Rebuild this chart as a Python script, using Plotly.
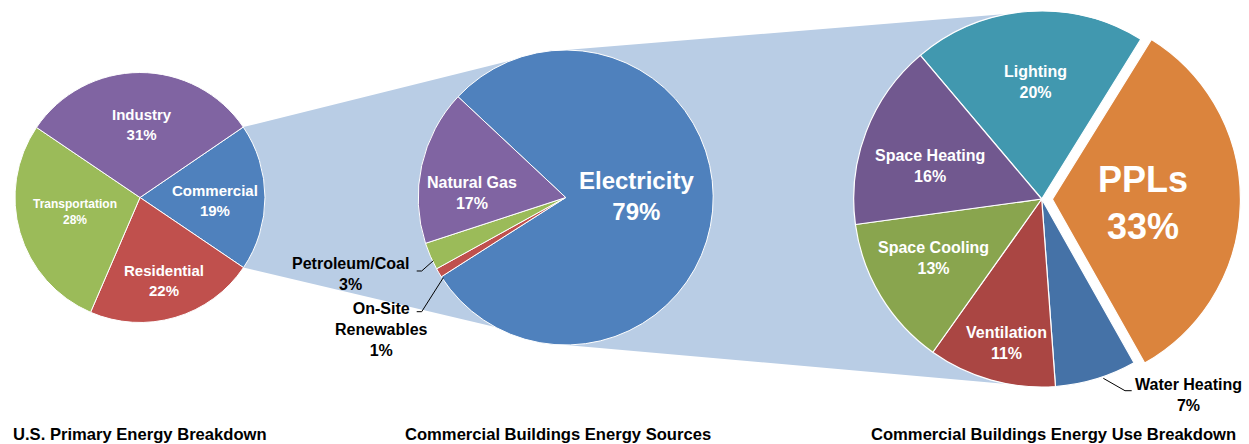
import math
import plotly.graph_objects as go

W, H = 1249, 444

# ---------------- data ----------------
us_labels = ["Commercial", "Residential", "Transportation", "Industry"]
us_values = [19, 22, 28, 31]

src_labels = ["Electricity", "On-Site Renewables", "Petroleum/Coal", "Natural Gas"]
src_values = [79, 1, 3, 17]

use_labels = ["Lighting", "PPLs", "Water Heating", "Ventilation", "Space Cooling", "Space Heating"]
use_values = [20, 33, 7, 11, 13, 16]

titles = ["U.S. Primary Energy Breakdown",
          "Commercial Buildings Energy Sources",
          "Commercial Buildings Energy Use Breakdown"]

# ---------------- styles ----------------
us_colors = ["#4F81BD", "#C0504D", "#9BBB59", "#8064A2"]
src_colors = ["#4F81BD", "#C0504D", "#9BBB59", "#8064A2"]
use_colors = ["#4198AF", "#DB843D", "#4572A7", "#AA4643", "#89A54E", "#71588F"]
use_pull = [0, 0.057, 0, 0, 0, 0]
link_color = "#B9CDE5"
FONT = "Liberation Sans, Arial, sans-serif"

# pie geometry in pixels (centre x, centre y, radius, rotation)
P1 = dict(cx=140.0, cy=197.5, r=125.0, rot=55.7)
P2 = dict(cx=565.7, cy=197.5, r=147.5, rot=-46.9)
P3 = dict(cx=1041.7, cy=199.0, r=188.0, rot=-40.2)


def px(x):
    return x / W


def py(y):
    return 1 - y / H


def domain(p, pull=0.0):
    R = p["r"] * (1 + pull)
    return dict(x=[px(p["cx"] - R), px(p["cx"] + R)],
                y=[py(p["cy"] + R), py(p["cy"] - R)])


def edge_point(p, ang_cw):
    a = math.radians(ang_cw)
    return (p["cx"] + p["r"] * math.sin(a), p["cy"] - p["r"] * math.cos(a))


fig = go.Figure()

fig.add_trace(go.Pie(labels=us_labels, values=us_values, sort=False, direction="clockwise",
                     rotation=P1["rot"], domain=domain(P1), textinfo="none",
                     marker=dict(colors=us_colors, line=dict(color="white", width=1)),
                     showlegend=False))
fig.add_trace(go.Pie(labels=src_labels, values=src_values, sort=False, direction="clockwise",
                     rotation=P2["rot"], domain=domain(P2), textinfo="none",
                     marker=dict(colors=src_colors, line=dict(color="white", width=1)),
                     showlegend=False))
fig.add_trace(go.Pie(labels=use_labels, values=use_values, sort=False, direction="clockwise",
                     rotation=P3["rot"], domain=domain(P3, max(use_pull)), textinfo="none",
                     pull=use_pull,
                     marker=dict(colors=use_colors, line=dict(color="white", width=1.2)),
                     showlegend=False))

# ---------------- connector polygons ----------------
tot1 = sum(us_values)
a0 = P1["rot"]
a1 = P1["rot"] + 360 * us_values[0] / tot1
c_top = edge_point(P1, a0)
c_bot = edge_point(P1, a1)
p2_top = (P2["cx"] - 15, P2["cy"] - P2["r"] + 0.5)
p2_bot = (P2["cx"], P2["cy"] + P2["r"] - 1.5)
p3_top = (P3["cx"], P3["cy"] - P3["r"])
p3_bot = (P3["cx"], P3["cy"] + P3["r"])


def poly(points):
    s = "M " + " L ".join(f"{px(x):.5f},{py(y):.5f}" for x, y in points) + " Z"
    return s


shapes = [
    dict(type="path", xref="paper", yref="paper", layer="below",
         path=poly([c_top, p2_top, (P2["cx"], P2["cy"]), p2_bot, c_bot]),
         fillcolor=link_color, line=dict(width=0)),
    dict(type="path", xref="paper", yref="paper", layer="below",
         path=poly([(P2["cx"], P2["cy"] - P2["r"]), p3_top, p3_bot, (P2["cx"], P2["cy"] + P2["r"])]),
         fillcolor=link_color, line=dict(width=0)),
]


def leader(points):
    s = "M " + " L ".join(f"{px(x):.5f},{py(y):.5f}" for x, y in points)
    return dict(type="path", xref="paper", yref="paper", path=s,
                line=dict(color="black", width=1))


shapes += [
    leader([(416.7, 271), (421.7, 271), (433.3, 260.7)]),
    leader([(416.7, 311.7), (421.7, 311.7), (443.3, 277.7)]),
    leader([(1103.3, 378.3), (1125, 390.7), (1131.7, 390.7)]),
]

# ---------------- labels ----------------
annotations = []


def lab(text, x, y, size, color="white"):
    annotations.append(dict(text=f"<b>{text}</b>", x=px(x), y=py(y), xref="paper", yref="paper",
                            xanchor="center", yanchor="middle", showarrow=False,
                            font=dict(family=FONT, size=size, color=color)))


def pct(v):
    return f"{v}%"


# pie 1
lab(f"{us_labels[0]}<br>{pct(us_values[0])}", 215.3, 200, 15)
lab(f"{us_labels[1]}<br>{pct(us_values[1])}", 164, 280, 15)
lab(f"{us_labels[2]}<br>{pct(us_values[2])}", 75.3, 212, 12)
lab(f"{us_labels[3]}<br>{pct(us_values[3])}", 141.7, 124, 15)
# pie 2
lab(f"{src_labels[0]}<br>{pct(src_values[0])}", 636, 196, 24)
lab(f"{src_labels[3]}<br>{pct(src_values[3])}", 471.7, 192.5, 16)
lab(f"{src_labels[2]}<br>{pct(src_values[2])}", 350.8, 273.7, 16, "black")
lab("On-Site<br>Renewables<br>" + pct(src_values[1]), 381.7, 329.3, 16, "black")
# pie 3
lab(f"{use_labels[0]}<br>{pct(use_values[0])}", 1035, 82, 16)
lab(f"{use_labels[1]}<br>{pct(use_values[1])}", 1143.3, 202.5, 36)
lab(f"{use_labels[5]}<br>{pct(use_values[5])}", 930, 166, 16)
lab(f"{use_labels[4]}<br>{pct(use_values[4])}", 933.3, 257.5, 16)
lab(f"{use_labels[3]}<br>{pct(use_values[3])}", 1006.7, 343, 16)
lab(f"{use_labels[2]}<br>{pct(use_values[2])}", 1188.3, 395, 16, "black")

# titles
for t, x in zip(titles, [140, 558, 1053]):
    lab(t, x, 434, 16.6, "black")

fig.update_layout(width=W, height=H, margin=dict(l=0, r=0, t=0, b=0),
                  paper_bgcolor="white", plot_bgcolor="white",
                  shapes=shapes, annotations=annotations,
                  font=dict(family=FONT))

fig.write_html("out.html", config={"displayModeBar": False},
               post_script="document.body.style.margin='0';document.body.style.overflow='hidden';")
